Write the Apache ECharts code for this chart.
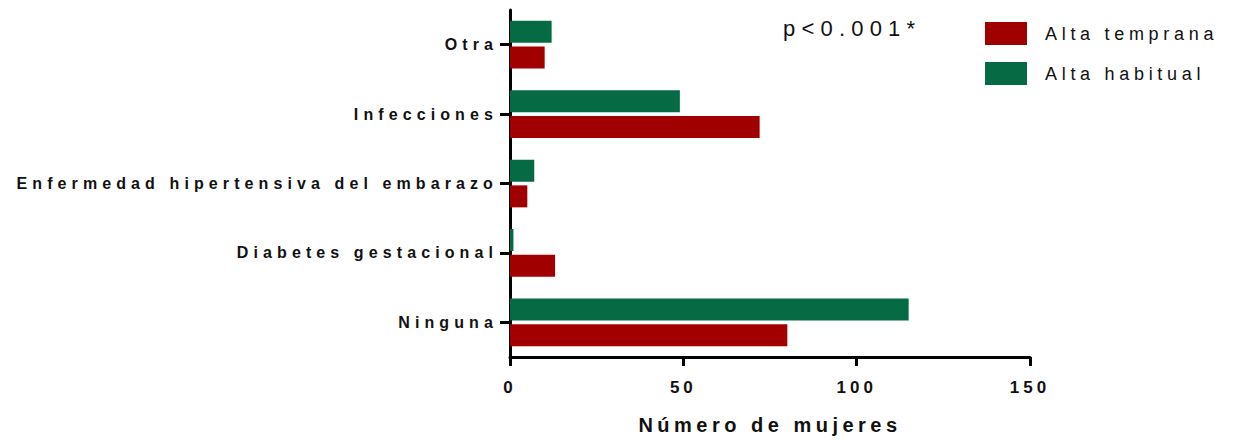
<!DOCTYPE html>
<html>
<head>
<meta charset="utf-8">
<script src="https://cdn.jsdelivr.net/npm/echarts@6/dist/echarts.min.js"></script>
<style>
  html, body { margin: 0; padding: 0; background: #fff; }
  #chart { width: 1234px; height: 440px; }
  /* Prism-style wide letter spacing */
  #chart svg text[style*="bold"][style*="16px"] { letter-spacing: 5.1px; }
  #chart svg text[style*="bold"][style*="17px"] { letter-spacing: 4px; }
  #chart svg text[style*="bold"][style*="20px"] { letter-spacing: 4.5px; }
  #chart svg text:not([style*="bold"])[style*="18px"] { letter-spacing: 4.7px; }
  #chart svg text:not([style*="bold"])[style*="22px"] { letter-spacing: 6.2px; }
</style>
</head>
<body>
<div id="chart"></div>
<script>
// ---- data ----
const categories = ['Ninguna', 'Diabetes gestacional', 'Enfermedad hipertensiva del embarazo', 'Infecciones', 'Otra'];
const altaTemprana = [80, 13, 5, 72, 10];
const altaHabitual = [115, 1, 7, 49, 12];
const seriesNames = ['Alta temprana', 'Alta habitual'];
const xMin = 0, xMax = 150, xStep = 50;
const axisTitle = 'Número de mujeres';
const pText = 'p<0.001*';

const FONT = 'Liberation Sans, Arial, sans-serif';
const RED = '#A10000';
const GREEN = '#066B45';

const chart = echarts.init(document.getElementById('chart'), null, { renderer: 'svg' });
chart.setOption({
  animation: false,
  backgroundColor: '#fff',
  grid: { left: 510, right: 204, top: 10, bottom: 83, containLabel: false },
  legend: {
    data: seriesNames,
    orient: 'vertical',
    left: 985, top: 22,
    padding: 0,
    itemWidth: 42, itemHeight: 23,
    itemGap: 17,
    icon: 'rect',
    textStyle: { fontFamily: FONT, fontSize: 18, color: '#111', padding: [0, 0, 0, 13] }
  },
  xAxis: {
    type: 'value',
    min: xMin, max: xMax, interval: xStep,
    name: axisTitle,
    nameLocation: 'middle',
    nameGap: 58,
    nameTextStyle: { fontFamily: FONT, fontSize: 20, fontWeight: 'bold', color: '#111' },
    axisLine: { show: true, lineStyle: { color: '#000', width: 3 } },
    axisTick: { show: true, length: 9, lineStyle: { color: '#000', width: 3 } },
    axisLabel: { fontFamily: FONT, fontSize: 17, fontWeight: 'bold', color: '#111', margin: 22 },
    splitLine: { show: false }
  },
  yAxis: {
    type: 'category',
    data: categories,
    axisLine: { show: true, lineStyle: { color: '#000', width: 3 } },
    axisTick: { show: true, alignWithLabel: true, length: 10, lineStyle: { color: '#000', width: 3 } },
    axisLabel: { fontFamily: FONT, fontSize: 16, fontWeight: 'bold', color: '#111', margin: 12 }
  },
  series: [
    {
      name: seriesNames[1], type: 'bar', data: altaHabitual,
      barWidth: 22, barGap: '17%',
      itemStyle: { color: GREEN }
    },
    {
      name: seriesNames[0], type: 'bar', data: altaTemprana,
      barWidth: 22, barGap: '17%',
      itemStyle: { color: RED }
    }
  ],
  graphic: [{
    type: 'text', left: 783, top: 17,
    style: { text: pText, font: 'normal 22px ' + FONT, fill: '#111' }
  }]
});
</script>
</body>
</html>
